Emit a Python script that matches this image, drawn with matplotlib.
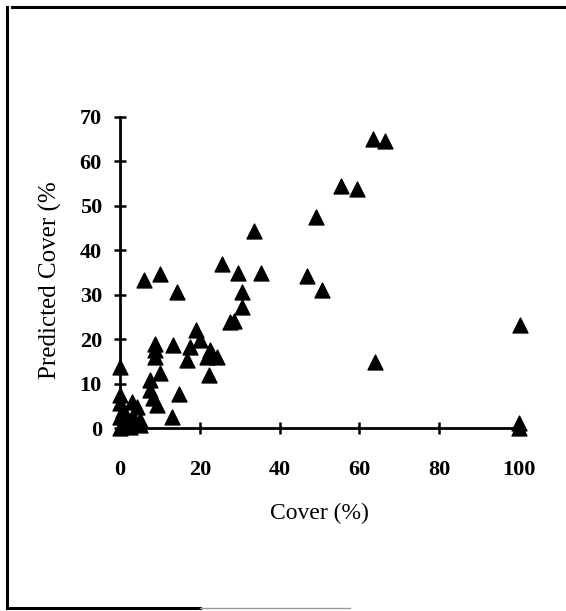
import matplotlib
matplotlib.use("Agg")
import matplotlib.pyplot as plt
from matplotlib.lines import Line2D

# измеренное покрытие, %
cover = [63.5, 66.5, 55.3, 59.5, 49.0, 33.5, 35.4, 46.9, 50.7, 100.3, 63.8, 100.0, 100.0,
         25.5, 29.5, 10.0, 5.9, 14.2, 30.6, 30.6, 27.6, 28.6, 19.1, 17.6, 20.1, 22.6,
         24.3, 21.8, 16.8, 13.2, 8.8, 8.8, 8.8, 22.2, 10.0, 7.5, 7.5, 8.3, 9.2, 14.9, 13.0,
         0.0, 0.0, 0.0, 0.0, 0.0,
         0.8, 2.9, 4.2, 3.3, 5.0, 1.7, 0.5, 5.0, 2.5, 1.5]
# предсказанное покрытие, %
predicted = [65.0, 64.6, 54.5, 53.8, 47.4, 44.4, 35.0, 34.3, 31.0, 23.1, 14.9, 1.1, 0.0,
             36.9, 35.0, 34.7, 33.2, 30.6, 30.6, 27.2, 23.8, 24.0, 22.0, 18.2, 19.7, 17.5,
             16.0, 16.0, 15.2, 18.6, 19.0, 17.5, 16.0, 11.9, 12.3, 10.8, 8.5, 6.7, 5.2, 7.6, 2.5,
             13.7, 7.4, 5.6, 2.5, 0.0,
             4.0, 5.9, 4.8, 2.5, 1.8, 1.1, 0.5, 0.7, 0.2, 2.8]

xticks = [0, 20, 40, 60, 80, 100]
yticks = [0, 10, 20, 30, 40, 50, 60, 70]

W, H = 566, 611
fig = plt.figure(figsize=(W / 100, H / 100), dpi=100)
ax = fig.add_axes([120 / W, 1 - 428 / H, 399 / W, 311 / H])

ax.scatter(cover, predicted, marker='^', s=115, color='black', clip_on=False, zorder=3)

ax.set_xlim(0, 100)
ax.set_ylim(0, 70)
ax.set_xticks(xticks)
ax.set_yticks(yticks)
for s in ['top', 'right']:
    ax.spines[s].set_visible(False)
for s in ['left', 'bottom']:
    ax.spines[s].set_linewidth(2.0)

tick_font = dict(family='Liberation Serif', weight='bold', size=16)
ax.set_xticklabels([str(t) for t in xticks], fontdict=tick_font)
ax.set_yticklabels([str(t) for t in yticks], fontdict=tick_font)
ax.tick_params(axis='x', direction='inout', length=8, width=1.8, pad=19)
ax.tick_params(axis='y', direction='inout', length=8, width=1.8, pad=9)

fig.text(319 / W, 1 - 513 / H, 'Cover (%)', family='Liberation Serif', size=17,
         ha='center', va='center')
fig.text(50 / W, 1 - 280 / H, 'Predicted Cover (%', family='Liberation Serif', size=18,
         ha='center', va='center', rotation=90)

# рамка
fig.add_artist(Line2D([12 / W, 1.0], [1 - 7 / H, 1 - 7 / H], color='black', lw=2.2))
fig.add_artist(Line2D([7 / W, 7 / W], [1 - 7 / H, 1 - 608 / H], color='black', lw=2.2))
fig.add_artist(Line2D([7 / W, 200 / W], [1 - 608 / H, 1 - 608 / H], color='black', lw=2.2))
fig.add_artist(Line2D([200 / W, 350 / W], [1 - 608 / H, 1 - 608 / H], color='#999999', lw=1.0))

fig.savefig('out.png', dpi=100)
